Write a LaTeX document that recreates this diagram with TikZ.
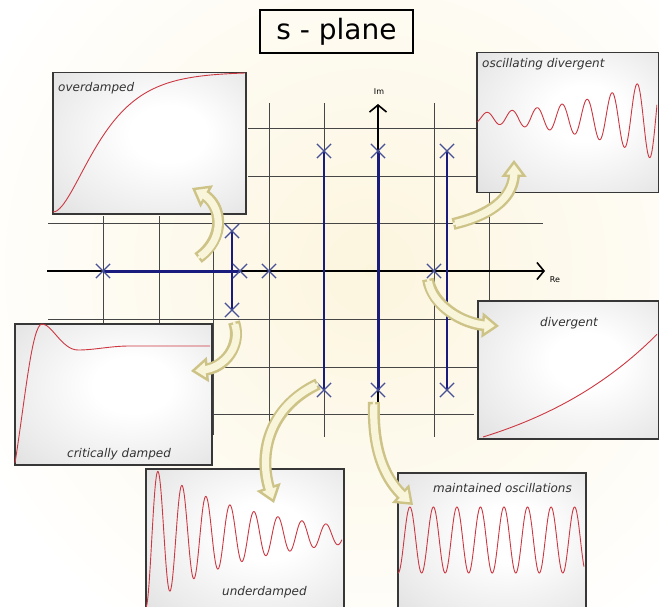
\documentclass[tikz,border=0pt]{standalone}
\usepackage{fontspec}
\setmainfont{DejaVu Sans}
\usetikzlibrary{arrows.meta,shapes.misc}
\definecolor{gridc}{RGB}{70,70,70}
\definecolor{navy}{RGB}{25,28,125}
\definecolor{crossc}{RGB}{70,80,150}
\definecolor{cream}{RGB}{252,245,222}
\definecolor{arredge}{RGB}{205,195,135}
\definecolor{arrfill}{RGB}{249,245,218}
\definecolor{curvec}{RGB}{205,55,65}
\definecolor{boxedge}{RGB}{55,55,55}
\pgfdeclareradialshading{panelshade}{\pgfpoint{6bp}{4bp}}{color(0bp)=(white); color(10bp)=(white); color(30bp)=(black!8); color(45bp)=(black!15); color(60bp)=(black!18)}
\begin{document}
\begin{tikzpicture}[x=1pt,y=-1pt,
  gridline/.style={draw=gridc, line width=0.9pt},
  bluethin/.style={draw=navy, line width=1.4pt},
  bluethick/.style={draw=navy, line width=3pt},
  pole/.style={draw=crossc, cross out, line width=1.2pt, minimum size=13pt, inner sep=0pt},
  panel/.style={draw=boxedge, line width=1.5pt, shading=panelshade, anchor=north west, inner sep=0pt},
  curve/.style={draw=curvec, line width=0.9pt},
  lab/.style={font=\fontsize{12}{14}\selectfont\itshape, text=black!80, inner sep=0pt},
  axis/.style={draw=black, line width=1.6pt},
  fatarrow/.style={
    draw=arredge, line width=12pt, line cap=butt, shorten >=13pt,
    postaction={draw=arrfill, line width=2.4pt, shorten >=0pt,
      -{Triangle[length=17pt, width=25pt, fill=arrfill, color=arredge]}},
    postaction={draw=arrfill, line width=7.2pt, shorten >=12pt, shorten <=2.4pt}
  }
]
\useasboundingbox (0,0) rectangle (659,607);
\clip (0,0) rectangle (659,607);
\fill[white] (0,0) rectangle (659,607);
% background glow
\shade[inner color=cream, outer color=white] (370,270) circle (430);

% grid
\draw[gridline] (248,128) -- (478,128);
\draw[gridline] (248,176) -- (478,176);
\draw[gridline] (48,223) -- (543,223);
\draw[gridline] (48,319) -- (478,319);
\draw[gridline] (205,367) -- (478,367);
\draw[gridline] (205,414) -- (474,414);
\draw[gridline] (103,216) -- (103,330);
\draw[gridline] (159,216) -- (159,330);
\draw[gridline] (213,214) -- (213,435);
\draw[gridline] (269,103) -- (269,437);
\draw[gridline] (324,103) -- (324,437);
\draw[gridline] (434,103) -- (434,437);
\draw[gridline] (489,190) -- (489,302);

% axes
\coordinate (reL) at (47,271);
\coordinate (reR) at (545,271);
\coordinate (imB) at (378,437);
\coordinate (imT) at (378,104);
\draw[axis, -{Straight Barb[length=7pt,width=17pt]}] (reL) -- (reR);
\draw[axis, -{Straight Barb[length=7pt,width=17pt]}] (imB) -- (imT);
\node[font=\fontsize{8}{9}\selectfont, inner sep=0pt] (imlab) at (379,92) {Im};
\node[font=\fontsize{8}{9}\selectfont, inner sep=0pt] (relab) at (555,280) {Re};

% pole positions
\coordinate (p1) at (103,271);
\coordinate (p2) at (240,271);
\coordinate (p3) at (269,271);
\coordinate (p4) at (434,271);
\coordinate (p5) at (232,231);
\coordinate (p6) at (232,310);
\coordinate (p7) at (324,151);
\coordinate (p8) at (324,390);
\coordinate (p9) at (378,151);
\coordinate (p10) at (378,390);
\coordinate (p11) at (447,151);
\coordinate (p12) at (447,390);

% root loci
\draw[bluethick] (p1) -- (p2);
\draw[bluethick] (p9) -- (p10);
\draw[bluethin] (p5) -- (p6);
\draw[bluethin] (p7) -- (p8);
\draw[bluethin] (p11) -- (p12);

\foreach \p in {p1,p2,p3,p4,p5,p6,p7,p8,p9,p10,p11,p12}
  \node[pole] (x\p) at (\p) {};

% panels
\node[panel, minimum width=193pt, minimum height=141pt] (over) at (52,72) {};
\node[panel, minimum width=182pt, minimum height=140pt] (oscd) at (476,52) {};
\node[panel, minimum width=197pt, minimum height=141pt] (crit) at (14,323) {};
\node[panel, minimum width=181pt, minimum height=138pt] (div) at (477,300) {};
\node[panel, minimum width=198pt, minimum height=145pt] (under) at (145,468) {};
\node[panel, minimum width=188pt, minimum height=141pt] (maint) at (397,472) {};

% curves
\draw[curve] plot[domain=0:7, samples=90] ({53+192*\x/7}, {212-140*(1-(1+\x)*exp(-\x))});
\begin{scope}
  \clip (477,53) rectangle (657,191);
  \draw[curve] plot[domain=477:657, samples=400] (\x, {118 - 5*exp(0.012*(\x-477))*sin(14.4*(\x-480.75))});
\end{scope}
\draw[curve] (15,463) .. controls (25,400) and (32,324) .. (42,324)
  .. controls (52,324) and (62,350) .. (78,350)
  .. controls (95,350) and (110,346) .. (130,346) -- (210,346);
\draw[curve] plot[domain=483:657, samples=100] (\x, {437 - 46*(exp(1.18*(\x-483)/175)-1)});
\begin{scope}
  \clip (146,469) rectangle (342,607);
  \draw[curve] plot[domain=146:342, samples=400] (\x, {607 - 72*(1 - exp(-0.0104*(\x-146))*cos(15*(\x-146)))});
\end{scope}
\draw[curve] plot[domain=398:584, samples=400] (\x, {540 - 33*sin(15.3*(\x-404))});

% labels
\node[lab, anchor=west] (l1) at (58,88) {overdamped};
\node[lab, anchor=west] (l2) at (482,64) {oscillating divergent};
\node[lab, anchor=west] (l3) at (67,454) {critically damped};
\node[lab, anchor=west] (l4) at (540,323) {divergent};
\node[lab, anchor=west] (l5) at (222,592) {underdamped};
\node[lab, anchor=west] (l6) at (433,488) {maintained oscillations};

% fat arrows
\coordinate (a1s) at (198,258); \coordinate (a1e) at (192,188);
\coordinate (a2s) at (453,224); \coordinate (a2e) at (514,160);
\coordinate (a3s) at (234,322); \coordinate (a3e) at (191,371);
\coordinate (a4s) at (428,279); \coordinate (a4e) at (499,326);
\coordinate (a5s) at (318,384); \coordinate (a5e) at (274,503);
\coordinate (a6s) at (374,402); \coordinate (a6e) at (413,505);
\draw[fatarrow] (a1s) .. controls (226,238) and (222,205) .. (a1e);
\draw[fatarrow] (a2s) .. controls (495,214) and (514,195) .. (a2e);
\draw[fatarrow] (a3s) .. controls (242,345) and (225,368) .. (a3e);
\draw[fatarrow] (a4s) .. controls (432,305) and (462,324) .. (a4e);
\draw[fatarrow] (a5s) .. controls (268,408) and (258,455) .. (a5e);
\draw[fatarrow] (a6s) .. controls (372,455) and (388,482) .. (a6e);

% title
\node[draw, line width=2.2pt, minimum width=153pt, minimum height=43pt, inner sep=0pt,
  font=\fontsize{28}{30}\selectfont] (title) at (336.5,31.5) {s - plane};
\end{tikzpicture}
\end{document}
